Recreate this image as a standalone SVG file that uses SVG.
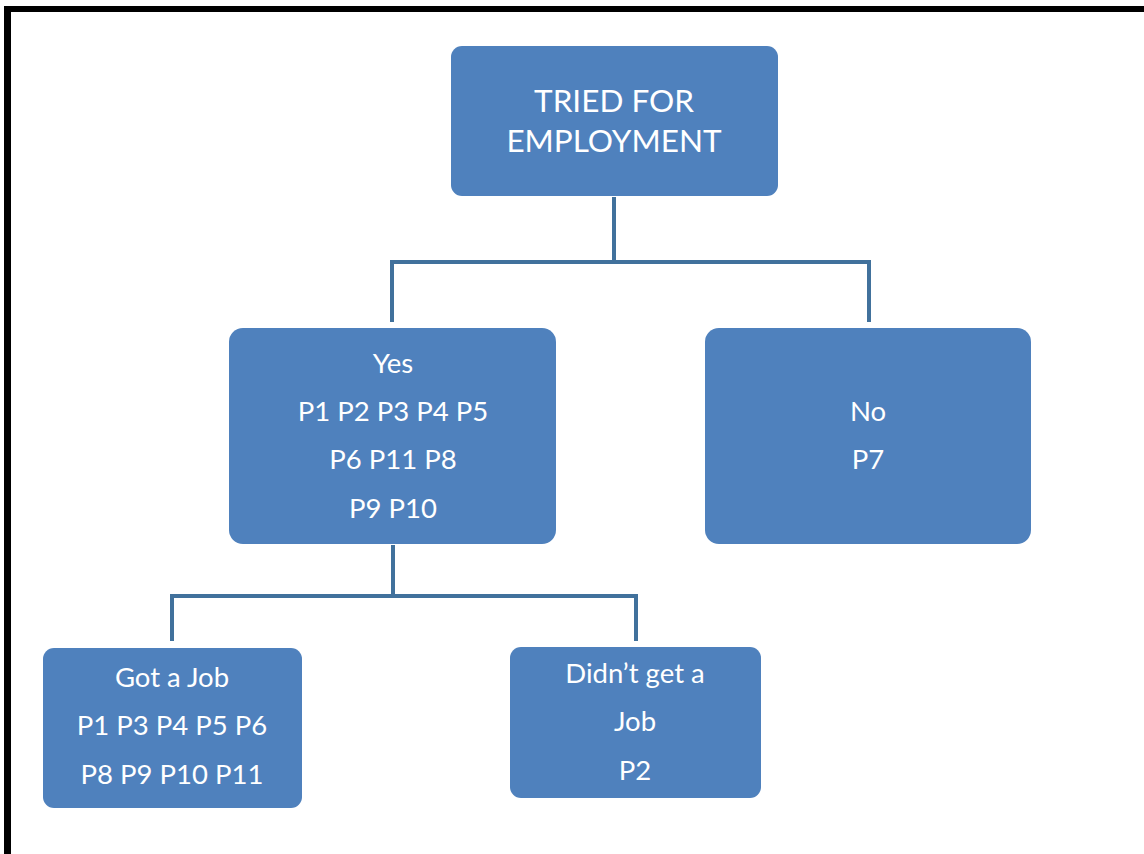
<svg xmlns="http://www.w3.org/2000/svg" width="1144" height="854" viewBox="0 0 1144 854">
  <style>
    .box { fill: #4F81BD; }
    .lbl { fill: #FFFFFF; font-family: Lato, "Open Sans", "Liberation Sans", sans-serif; text-anchor: middle; }
    .big { font-size: 31.5px; }
    .txt { font-size: 27.5px; }
    .wire { fill: none; stroke: #41719C; stroke-width: 4; stroke-linejoin: miter; }
  </style>
  <rect x="0" y="0" width="1144" height="854" fill="#FFFFFF"/>
  <!-- frame: top and left edges -->
  <rect x="4" y="6" width="1140" height="6" fill="#000000"/>
  <rect x="4" y="6" width="7" height="848" fill="#000000"/>

  <g id="connectors">
    <path class="wire" d="M614 197 V262 M392 322 V262 H869 V322"/>
    <path class="wire" d="M393 545 V596 M172 641 V596 H636 V641"/>
  </g>

  <g id="tried">
    <rect class="box" x="451" y="46" width="327" height="150" rx="11"/>
    <text class="lbl big" x="614" y="112">TRIED FOR</text>
    <text class="lbl big" x="614" y="152">EMPLOYMENT</text>
  </g>

  <g id="yes">
    <rect class="box" x="229" y="328" width="327" height="216" rx="14"/>
    <text class="lbl txt" x="393" y="373">Yes</text>
    <text class="lbl txt" x="393" y="421">P1 P2 P3 P4 P5</text>
    <text class="lbl txt" x="393" y="469">P6 P11 P8</text>
    <text class="lbl txt" x="393" y="518">P9 P10</text>
  </g>

  <g id="no">
    <rect class="box" x="705" y="328" width="326" height="216" rx="14"/>
    <text class="lbl txt" x="868" y="421">No</text>
    <text class="lbl txt" x="868" y="469">P7</text>
  </g>

  <g id="got-job">
    <rect class="box" x="43" y="648" width="259" height="160" rx="11"/>
    <text class="lbl txt" x="172" y="687">Got a Job</text>
    <text class="lbl txt" x="172" y="735">P1 P3 P4 P5 P6</text>
    <text class="lbl txt" x="172" y="784">P8 P9 P10 P11</text>
  </g>

  <g id="no-job">
    <rect class="box" x="510" y="647" width="251" height="151" rx="11"/>
    <text class="lbl txt" x="635" y="683">Didn’t get a</text>
    <text class="lbl txt" x="635" y="731">Job</text>
    <text class="lbl txt" x="635" y="780">P2</text>
  </g>
</svg>
